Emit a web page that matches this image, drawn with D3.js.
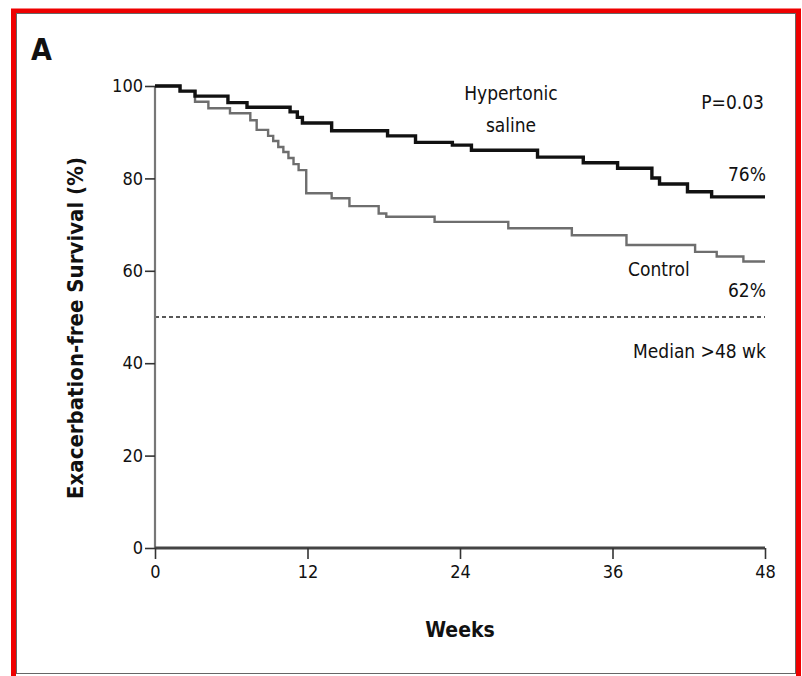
<!DOCTYPE html>
<html>
<head>
<meta charset="utf-8">
<script src="https://cdn.jsdelivr.net/npm/d3@7"></script>
<style>
  html, body { margin: 0; padding: 0; background: #fff; }
  svg { display: block; }
  text { font-family: "Liberation Sans Narrow", "DejaVu Sans Condensed", "Liberation Sans", sans-serif; fill: #111; }
</style>
</head>
<body>
<script>
// Kaplan-Meier step points: week at which the curve steps, survival (%) after the step
const hsWeeks    = [0, 1.97, 3.15, 5.74, 7.24, 10.63, 11.2, 11.6, 13.9, 18.3, 20.5, 23.4, 24.9, 30.1, 33.7, 36.4, 39.1, 39.7, 41.9, 43.8, 48];
const hsSurvival = [100, 98.9, 97.8, 96.4, 95.4, 94.4, 93.2, 92.0, 90.3, 89.2, 87.8, 87.2, 86.1, 84.6, 83.4, 82.2, 80.1, 78.8, 77.1, 76.0, 76.0];

const ctlWeeks    = [0, 1.97, 3.15, 4.2, 5.9, 7.5, 8.0, 8.9, 9.3, 9.7, 10.1, 10.5, 10.9, 11.3, 11.9, 13.9, 15.3, 17.6, 18.2, 22.0, 27.8, 32.8, 37.1, 42.5, 44.2, 46.3, 48];
const ctlSurvival = [100, 98.9, 96.6, 95.2, 94.1, 92.6, 90.5, 89.2, 88.1, 86.8, 85.7, 84.4, 83.1, 81.8, 76.8, 75.7, 74.0, 72.4, 71.7, 70.6, 69.2, 67.7, 65.6, 64.1, 63.1, 62.0, 62.0];

const xTicks = [0, 12, 24, 36, 48];
const yTicks = [0, 20, 40, 60, 80, 100];
const medianLevel = 50;
const hsFinal = 76, ctlFinal = 62;
const pValue = "P=0.03";

const W = 802, H = 676;
const svg = d3.select("body").append("svg").attr("width", W).attr("height", H);

// panel frame
svg.append("rect").attr("x", 13.5).attr("y", 11).attr("width", 785).attr("height", 680)
  .attr("fill", "none").attr("stroke", "#ee0000").attr("stroke-width", 5);
svg.append("rect").attr("x", 16.5).attr("y", 13.5).attr("width", 779).attr("height", 660)
  .attr("fill", "none").attr("stroke", "#666").attr("stroke-width", 1);

const x = d3.scaleLinear().domain([0, 48]).range([155, 765]);
const y = d3.scaleLinear().domain([0, 100]).range([548, 86]);

// panel letter
svg.append("text").attr("x", 31).attr("y", 60).attr("font-size", 30).attr("font-weight", "bold").text("A");

// dashed median reference
svg.append("line").attr("x1", x(0)).attr("x2", x(48)).attr("y1", y(medianLevel)).attr("y2", y(medianLevel))
  .attr("stroke", "#222").attr("stroke-width", 1.6).attr("stroke-dasharray", "4,3");

// y axis
const yAxis = svg.append("g").attr("transform", `translate(${x(0)},0)`)
  .call(d3.axisLeft(y).tickValues(yTicks).tickSize(10).tickPadding(2).tickFormat(d3.format("d")));
yAxis.select(".domain").attr("stroke", "#777").attr("stroke-width", 2.2).attr("d", `M0,${y(100)}V${y(0)}`);
yAxis.selectAll(".tick line").attr("stroke", "#333").attr("stroke-width", 1.6);
yAxis.selectAll(".tick text").attr("font-size", 18).attr("fill", "#111")
  .style("font-family", "'Liberation Sans Narrow', 'DejaVu Sans Condensed', sans-serif");

// x axis
const xAxis = svg.append("g").attr("transform", `translate(0,${y(0)})`)
  .call(d3.axisBottom(x).tickValues(xTicks).tickSize(11).tickPadding(6).tickFormat(d3.format("d")));
xAxis.select(".domain").attr("stroke", "#444").attr("stroke-width", 3).attr("d", `M${x(0)},0H${x(48)}`);
xAxis.selectAll(".tick line").attr("stroke", "#333").attr("stroke-width", 1.6);
xAxis.selectAll(".tick text").attr("font-size", 18).attr("fill", "#111")
  .style("font-family", "'Liberation Sans Narrow', 'DejaVu Sans Condensed', sans-serif");

// axis titles
svg.append("text").attr("transform", `translate(83,${(y(0) + y(100)) / 2 + 11}) rotate(-90)`)
  .attr("text-anchor", "middle").attr("font-size", 22).attr("font-weight", "bold")
  .text("Exacerbation-free Survival (%)");
svg.append("text").attr("x", 460).attr("y", 637).attr("text-anchor", "middle")
  .attr("font-size", 21).attr("font-weight", "bold").text("Weeks");

// survival curves
const step = d3.line().x(d => x(d[0])).y(d => y(d[1])).curve(d3.curveStepAfter);
const ctlPts = d3.zip(ctlWeeks, ctlSurvival);
const hsPts = d3.zip(hsWeeks, hsSurvival);
svg.append("path").datum(ctlPts).attr("d", step).attr("fill", "none")
  .attr("stroke", "#6e6e6e").attr("stroke-width", 2.4);
svg.append("path").datum(hsPts).attr("d", step).attr("fill", "none")
  .attr("stroke", "#111").attr("stroke-width", 3.4);

// annotations
const ann = svg.append("g").attr("font-size", 19);
ann.append("text").attr("x", 511).attr("y", 100).attr("text-anchor", "middle").text("Hypertonic");
ann.append("text").attr("x", 511).attr("y", 132).attr("text-anchor", "middle").text("saline");
ann.append("text").attr("x", 764).attr("y", 109).attr("text-anchor", "end").text(pValue);
ann.append("text").attr("x", 766).attr("y", 181).attr("text-anchor", "end").text(hsFinal + "%");
ann.append("text").attr("x", 628).attr("y", 276).text("Control");
ann.append("text").attr("x", 766).attr("y", 297).attr("text-anchor", "end").text(ctlFinal + "%");
ann.append("text").attr("x", 766).attr("y", 358).attr("text-anchor", "end").text("Median >48 wk");
</script>
</body>
</html>
